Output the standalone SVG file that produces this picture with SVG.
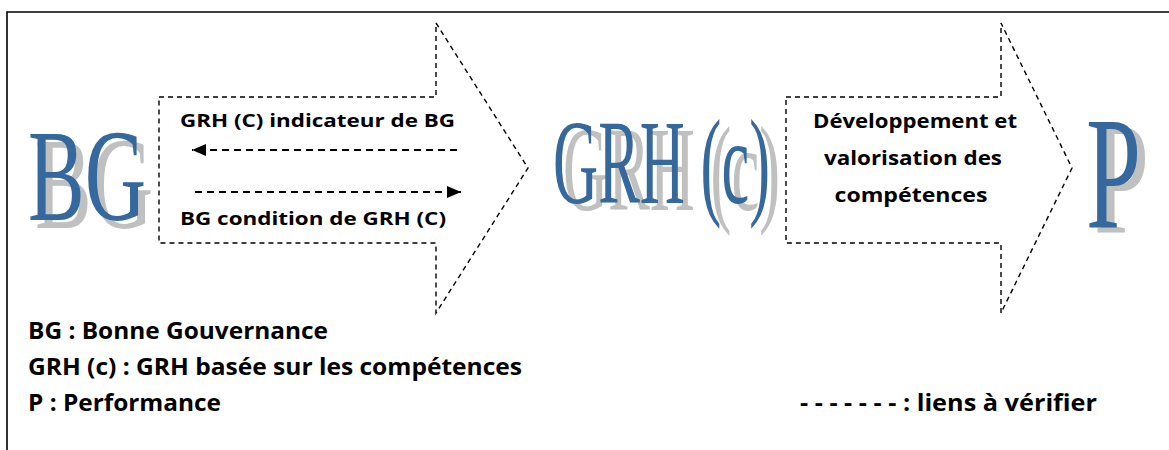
<svg xmlns="http://www.w3.org/2000/svg" width="1169" height="450" viewBox="0 0 1169 450">
<style>
.frame{fill:none;stroke:#000;stroke-width:1.6}
.bigarrow{fill:none;stroke:#000;stroke-width:1.4;stroke-dasharray:5,4}
.link{fill:none;stroke:#000;stroke-width:1.8;stroke-dasharray:7,5}
.lbl{font-family:"Open Sans","Noto Sans","Liberation Sans",sans-serif;font-weight:700;fill:#000}
.big{font-family:"Liberation Serif","DejaVu Serif",serif}
.blue{fill:#35689D}
.shadow{fill:#C0C0C0}
</style>
<defs>
<marker id="ah" viewBox="0 0 14 12" refX="14" refY="6" markerWidth="14" markerHeight="12" markerUnits="userSpaceOnUse" orient="auto">
<path d="M0,0 L14,6 L0,12 Z" fill="#000"/>
</marker>
</defs>
<path class="frame" d="M7,450 L7,12 L1169,12"/>
<g id="arrow1">
<path class="bigarrow" d="M159,97 L436,97 L436,23 L528,168 L436,313 L436,243 L159,243 Z"/>
<text class="lbl" x="180" y="127" font-size="18" textLength="275" lengthAdjust="spacingAndGlyphs">GRH (C) indicateur de BG</text>
<text class="lbl" x="180" y="225" font-size="18" textLength="266" lengthAdjust="spacingAndGlyphs">BG condition de GRH (C)</text>
</g>
<g id="arrow2">
<path class="bigarrow" d="M786,97 L1001,97 L1001,23 L1072,168 L1001,313 L1001,243 L786,243 Z"/>
<text class="lbl" x="915" y="128" font-size="20" text-anchor="middle" textLength="204" lengthAdjust="spacingAndGlyphs">Développement et</text>
<text class="lbl" x="913" y="165" font-size="20" text-anchor="middle" textLength="178" lengthAdjust="spacingAndGlyphs">valorisation des</text>
<text class="lbl" x="911" y="202" font-size="20" text-anchor="middle" textLength="153" lengthAdjust="spacingAndGlyphs">compétences</text>
</g>
<g id="connectors">
<line class="link" x1="457" y1="150" x2="192" y2="150" marker-end="url(#ah)"/>
<line class="link" x1="195" y1="192" x2="461" y2="192" marker-end="url(#ah)"/>
</g>
<g id="node-BG">
<text class="big shadow" x="35" y="228" font-size="132" textLength="118" lengthAdjust="spacingAndGlyphs">BG</text>
<text class="big blue" x="28" y="220" font-size="132" textLength="118" lengthAdjust="spacingAndGlyphs">BG</text>
</g>
<g id="node-GRH">
<text class="big shadow" x="563" y="210" font-size="120" textLength="217" lengthAdjust="spacingAndGlyphs">GRH (c)</text>
<text class="big blue" x="553" y="203" font-size="120" textLength="217" lengthAdjust="spacingAndGlyphs">GRH (c)</text>
</g>
<g id="node-P">
<text class="big shadow" x="1094" y="232" font-size="160" textLength="55" lengthAdjust="spacingAndGlyphs">P</text>
<text class="big blue" x="1086" y="227" font-size="160" textLength="55" lengthAdjust="spacingAndGlyphs">P</text>
</g>
<g id="legend">
<text class="lbl" x="28" y="339" font-size="24" textLength="300" lengthAdjust="spacingAndGlyphs">BG : Bonne Gouvernance</text>
<text class="lbl" x="28" y="375" font-size="24" textLength="494" lengthAdjust="spacingAndGlyphs">GRH (c) : GRH basée sur les compétences</text>
<text class="lbl" x="28" y="411" font-size="24" textLength="193" lengthAdjust="spacingAndGlyphs">P : Performance</text>
<text class="lbl" x="800" y="411" font-size="24" textLength="297" lengthAdjust="spacingAndGlyphs">- - - - - - - : liens à vérifier</text>
</g>
</svg>
